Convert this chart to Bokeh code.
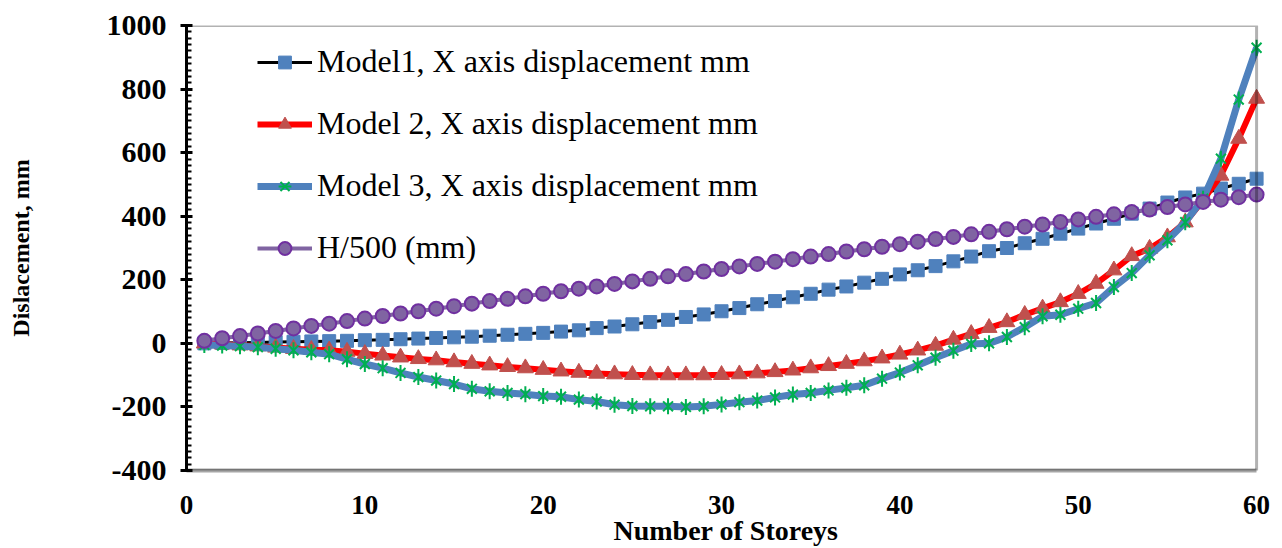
from bokeh.plotting import figure
from bokeh.models import Range1d, SingleIntervalTicker, FixedTicker, Legend, LegendItem, BoxAnnotation
from bokeh.embed import file_html
from bokeh.resources import INLINE
import numpy as np

storeys = list(range(1, 61))

model1 = [0, 1, 2, 3, 4, 5, 6, 7, 8, 10, 11, 13, 15, 17, 19, 21, 24, 27, 30, 33,
          37, 41, 48, 53, 60, 67, 74, 83, 91, 101, 111, 123, 133, 145, 156, 169, 179, 191, 203, 217,
          230, 243, 258, 273, 290, 300, 315, 329, 345, 361, 377, 392, 408, 424, 443, 459, 471, 487, 502, 518]

model2 = [0, -3, -6, -9, -13, -17, -20, -22, -26, -33, -38, -44, -49, -53, -59, -64, -69, -74, -78, -83,
          -88, -92, -95, -97, -99, -100, -100, -100, -100, -99, -97, -94, -90, -85, -78, -71, -64, -56, -47, -35,
          -22, -7, 12, 30, 49, 67, 90, 110, 130, 156, 188, 230, 275, 298, 334, 381, 450, 528, 644, 770]

model3 = [-5, -7, -9, -12, -17, -22, -28, -34, -50, -65, -78, -93, -106, -117, -128, -143, -151, -156, -160, -166,
          -168, -177, -183, -193, -197, -198, -198, -200, -198, -192, -185, -180, -170, -161, -156, -148, -140, -132, -111, -92,
          -69, -45, -23, -2, 0, 20, 51, 85, 90, 109, 127, 177, 221, 277, 324, 381, 455, 581, 767, 930]

h500 = [8, 16, 23, 31, 39, 47, 55, 62, 70, 78, 86, 94, 101, 109, 117, 125, 133, 140, 148, 156,
        164, 172, 179, 187, 195, 203, 211, 218, 226, 234, 242, 250, 257, 265, 273, 281, 289, 296, 304, 312,
        320, 328, 335, 343, 351, 359, 367, 374, 382, 390, 398, 406, 413, 421, 429, 437, 445, 452, 460, 468]

x_ticks = [0, 10, 20, 30, 40, 50, 60]
y_ticks = [-400, -200, 0, 200, 400, 600, 800, 1000]
y_tick_labels = ["-400", "-200", "0", "200", "400", "600", "800", "1000"]
labels = ["Model1, X axis displacement mm", "Model 2, X axis displacement mm",
          "Model 3, X axis displacement mm", "H/500 (mm)"]

FONT = "Liberation Serif"

p = figure(width=1282, height=548, output_backend="svg", toolbar_location=None,
           x_range=Range1d(0, 60.5), y_range=Range1d(-400, 1000),
           min_border_left=186, min_border_right=17, min_border_top=25, min_border_bottom=78)
p.xgrid.visible = False
p.ygrid.visible = False
p.outline_line_color = None
p.background_fill_color = "white"
p.border_fill_color = "white"

# Model 1
r1l = p.line(storeys, model1, line_color="black", line_width=3)
r1m = p.scatter(storeys, model1, marker="square", size=13, fill_color="#4F81BD",
                line_color="#4F81BD", line_width=1)
# Model 2
r2l = p.line(storeys, model2, line_color="#FF0000", line_width=6)
r2m = p.scatter(storeys, model2, marker="triangle", size=16, fill_color="#C0504D",
                line_color="#C0504D", line_width=1)
# Model 3
r3l = p.line(storeys, model3, line_color="#4F81BD", line_width=7)
r3x = p.scatter(storeys, model3, marker="x", size=14, line_color="#00B050", line_width=2)
r3d = p.scatter(storeys, model3, marker="dash", size=16, angle=np.pi / 2,
                line_color="#00B050", line_width=2)
# H/500
r4l = p.line(storeys, h500, line_color="#8064A2", line_width=4)
r4m = p.scatter(storeys, h500, marker="circle", size=14, fill_color="#8064A2",
                line_color="#7030A0", line_width=2)

p.add_layout(BoxAnnotation(left=0, right=60, bottom=-400, top=1000, fill_alpha=0,
                           line_color="black", line_width=3))

# axes
xa = p.xaxis[0]
xa.ticker = FixedTicker(ticks=x_ticks)
xa.bounds = (0, 60)
xa.axis_line_color = "#a6a6a6"
xa.axis_line_width = 4
xa.major_tick_in = 0
xa.major_tick_out = 0
xa.minor_tick_in = 0
xa.minor_tick_out = 0
xa.major_label_standoff = 25
xa.major_label_text_font = FONT
xa.major_label_text_font_style = "bold"
xa.major_label_text_font_size = "27px"
xa.major_label_text_color = "black"
xa.axis_label = "Number of Storeys"
xa.axis_label_text_font = FONT
xa.axis_label_text_font_style = "bold"
xa.axis_label_text_font_size = "28px"
xa.axis_label_text_color = "black"
xa.axis_label_standoff = -2

ya = p.yaxis[0]
ya.ticker = FixedTicker(ticks=y_ticks, minor_ticks=list(range(-400, 1001, 20)))
ya.major_label_overrides = {t: s for t, s in zip(y_ticks, y_tick_labels)}
ya.bounds = (-400, 1000)
ya.axis_line_color = "black"
ya.axis_line_width = 3
ya.major_tick_line_color = "black"
ya.major_tick_line_width = 3
ya.major_tick_in = 6
ya.major_tick_out = 6
ya.minor_tick_line_color = "black"
ya.minor_tick_line_width = 2
ya.minor_tick_in = 5
ya.minor_tick_out = 0
ya.major_label_standoff = 14
ya.major_label_text_font = FONT
ya.major_label_text_font_style = "bold"
ya.major_label_text_font_size = "30px"
ya.major_label_text_color = "black"
ya.axis_label = "Dislacement, mm"
ya.axis_label_text_font = FONT
ya.axis_label_text_font_style = "bold"
ya.axis_label_text_font_size = "24px"
ya.axis_label_text_color = "black"
ya.axis_label_standoff = 70

legend = Legend(items=[
    LegendItem(label=labels[0], renderers=[r1l, r1m]),
    LegendItem(label=labels[1], renderers=[r2l, r2m]),
    LegendItem(label=labels[2], renderers=[r3l, r3x, r3d]),
    LegendItem(label=labels[3], renderers=[r4l, r4m]),
], location=(71, 204))
legend.padding = 0
legend.margin = 0
legend.spacing = 25
legend.glyph_width = 55
legend.glyph_height = 32
legend.label_height = 36
legend.label_standoff = 5
legend.label_text_font = FONT
legend.label_text_font_size = "32px"
legend.label_text_color = "black"
legend.border_line_color = None
legend.background_fill_alpha = 0
p.add_layout(legend)

open("out.html", "w").write(file_html(p, INLINE))
